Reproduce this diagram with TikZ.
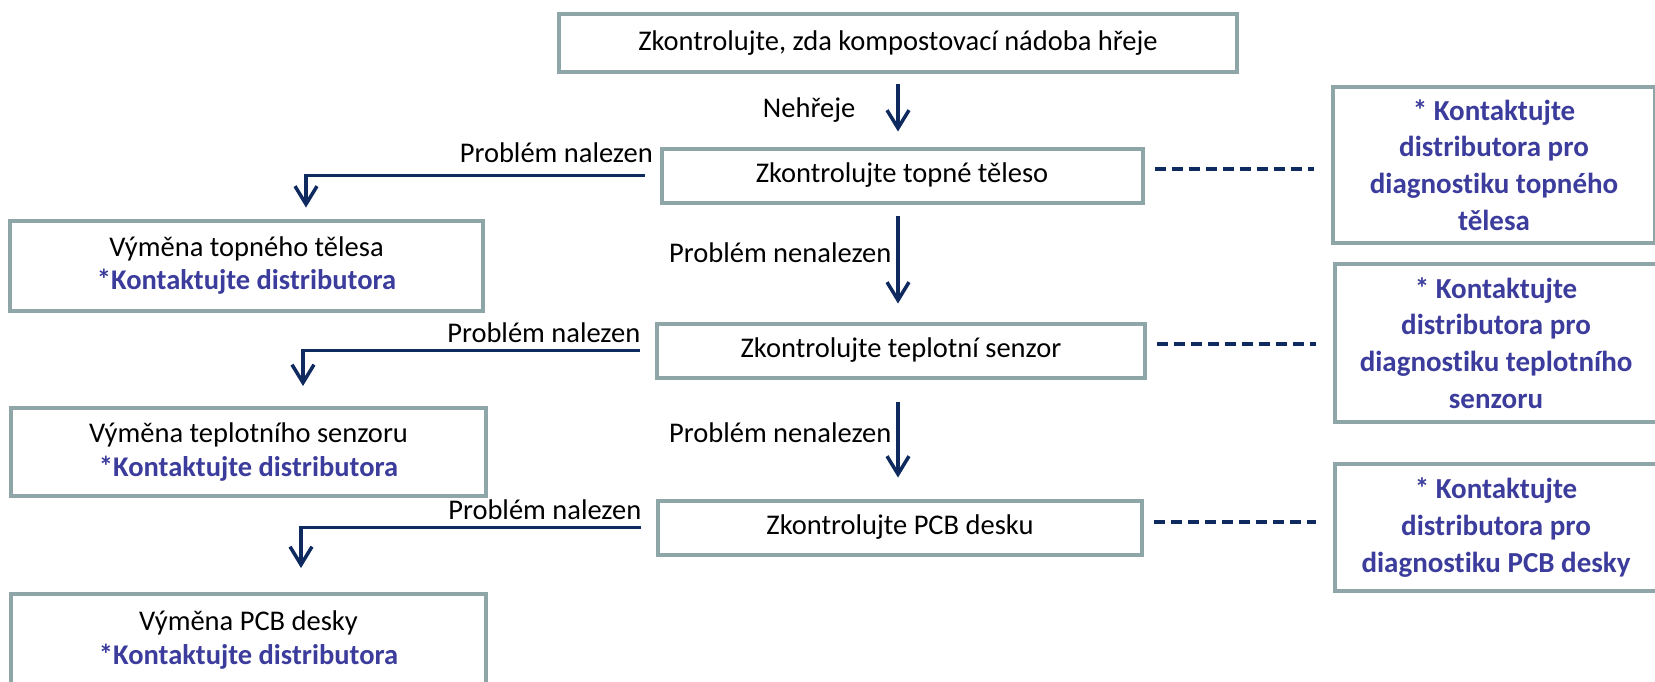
\documentclass[tikz,border=0pt]{standalone}
\usepackage{fontspec}
\setmainfont{Carlito}[Ligatures=NoCommon]
\usetikzlibrary{arrows.meta}

\definecolor{boxgray}{HTML}{8FA6A8}
\definecolor{navy}{HTML}{0E2A5E}
\definecolor{textblue}{HTML}{3B3C9C}

\begin{document}
\begin{tikzpicture}[x=1pt, y=-1pt,
  chkbox/.style={draw=boxgray, line width=4pt, inner sep=0pt, minimum width=484pt, minimum height=54pt, font=\fontsize{28.5}{34}\selectfont},
  repbox/.style={draw=boxgray, line width=4pt, inner sep=0pt, minimum width=473pt, minimum height=90pt, align=center, font=\fontsize{28.5}{33.5}\selectfont},
  diagbox/.style={draw=boxgray, line width=4pt, inner sep=0pt, minimum width=322pt, align=center, text=textblue, font=\bfseries\fontsize{29}{36.7}\selectfont},
  flow/.style={navy, line width=3.5pt, -{Straight Barb[length=18pt,width=22pt]}},
  link/.style={navy, line width=3.5pt, dash pattern=on 11pt off 6pt, shorten <=10pt, shorten >=17pt},
  lbl/.style={inner sep=0pt, text=black, font=\fontsize{28.5}{34}\selectfont}]
\fill[white] (0,0) rectangle (1655,681);
\useasboundingbox (0,0) rectangle (1655,681);

% checks in the middle column
\node[chkbox, minimum width=678pt, minimum height=58pt] (top) at (898,43) {Zkontrolujte, zda kompostovací nádoba hřeje};
\node[chkbox, minimum width=481pt] (chk1) at (902,175.5) {Zkontrolujte topné těleso};
\node[chkbox, minimum width=488pt] (chk2) at (901,350.5) {Zkontrolujte teplotní senzor};
\node[chkbox] (chk3) at (900,527.5) {Zkontrolujte PCB desku};

% replacements on the left
\node[repbox] (rep1) at (246.5,265.5) {Výměna topného tělesa\\\textcolor{textblue}{\bfseries *Kontaktujte distributora}};
\node[repbox, minimum width=475pt, minimum height=88pt] (rep2) at (248.5,452) {Výměna teplotního senzoru\\\textcolor{textblue}{\bfseries *Kontaktujte distributora}};
\node[repbox, minimum width=475pt, minimum height=92pt] (rep3) at (248.5,640) {Výměna PCB desky\\\textcolor{textblue}{\bfseries *Kontaktujte distributora}};

% diagnostics on the right
\node[diagbox, minimum height=156pt] (diag1) at (1494,165) {* Kontaktujte\\distributora pro\\diagnostiku topného\\tělesa};
\node[diagbox, minimum height=158pt] (diag2) at (1496,343) {* Kontaktujte\\distributora pro\\diagnostiku teplotního\\senzoru};
\node[diagbox, minimum height=127pt] (diag3) at (1496,527.5) {* Kontaktujte\\distributora pro\\diagnostiku PCB desky};

% down the middle
\draw[flow, shorten <=10pt, shorten >=15pt] (top.south) -- (top.south |- chk1.north)
  node[lbl, midway, left=41pt] {Nehřeje};
\draw[flow, shorten <=11pt, shorten >=18pt] (top.south |- chk1.south) -- (top.south |- chk2.north)
  node[lbl, pos=0.41, left=5pt] {Problém nenalezen};
\draw[flow, shorten <=22pt, shorten >=21pt] (top.south |- chk2.south) -- (top.south |- chk3.north)
  node[lbl, pos=0.45, left=5pt] {Problém nenalezen};

% found a problem
\draw[flow, shorten <=15pt, shorten >=11pt] (chk1.west)
  node[lbl, anchor=base east, xshift=-5pt, yshift=13pt] {Problém nalezen} -| ([xshift=59.5pt]rep1.north);
\draw[flow, shorten <=15pt, shorten >=20pt] (chk2.west)
  node[lbl, anchor=base east, xshift=-13pt, yshift=8pt] {Problém nalezen} -| ([xshift=54.5pt]rep2.north);
\draw[flow, shorten <=15pt, shorten >=24pt] (chk3.west)
  node[lbl, anchor=base east, xshift=-13pt, yshift=8pt] {Problém nalezen} -| ([xshift=52.5pt]rep3.north);

% dashed links to the distributor
\draw[link] ([yshift=6.5pt]chk1.east) -- ([yshift=6.5pt]chk1.east -| diag1.west);
\draw[link] ([yshift=6.5pt]chk2.east) -- ([yshift=6.5pt]chk2.east -| diag2.west);
\draw[link] ([yshift=5.5pt]chk3.east) -- ([yshift=5.5pt]chk3.east -| diag3.west);
\end{tikzpicture}
\end{document}
